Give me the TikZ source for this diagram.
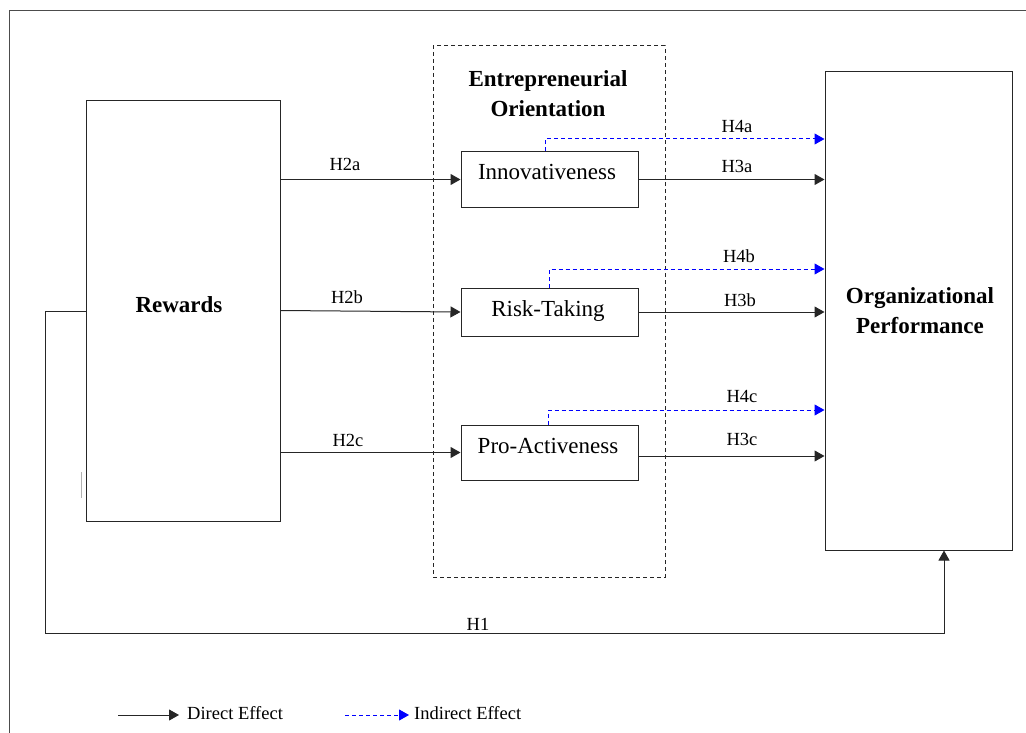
\documentclass[tikz,border=0pt]{standalone}
\usepackage{fontspec}
\setmainfont{Liberation Serif}
\usetikzlibrary{arrows.meta,calc}
\begin{document}
\begin{tikzpicture}[x=1pt,y=-1pt,
  frameline/.style={draw=black!70, line width=1pt},
  box/.style={draw=black!85, line width=1pt, rectangle, inner sep=0pt},
  arr/.style={draw=black!85, line width=1pt, -{Triangle[length=10pt,width=11pt]}},
  ind/.style={draw=blue, line width=1pt, dash pattern=on 4pt off 3pt, -{Triangle[length=10pt,width=11pt]}},
  big/.style={font=\fontsize{23}{29}\selectfont, inner sep=0pt, text height=16pt, text depth=5pt},
  bigb/.style={font=\fontsize{23}{30}\selectfont\bfseries, inner sep=0pt, align=center},
  lab/.style={font=\fontsize{18.5}{22}\selectfont, inner sep=0pt, text height=13pt, text depth=4pt}
]
\useasboundingbox (0,0) rectangle (1026,733);
% frame (top and left)
\draw[frameline] (9,733) -- (9,11) -- (1026,11);
% stray mark
\draw[black!30, line width=0.8pt] (81,472) -- (81,498);

% dashed EO box
\node[draw=black!85, line width=1pt, dash pattern=on 4pt off 3pt, rectangle, inner sep=0pt,
      minimum width=232pt, minimum height=531pt] (eo) at (549,311.5) {};
\node[bigb] (eot) at (548,93.5) {Entrepreneurial\\Orientation};

% main boxes
\node[box, minimum width=194pt, minimum height=420pt] (rew) at (183,311) {};
\node[bigb] (rewt) at (179,305) {Rewards};
\node[box, minimum width=187pt, minimum height=478pt] (org) at (918.5,311) {};
\node[bigb] (orgt) at (920,311) {Organizational\\Performance};

\node[box, minimum width=177pt, minimum height=55pt] (inn) at (549.5,179.5) {};
\node[big] (innt) at (547,174) {Innovativeness};
\node[box, minimum width=177pt, minimum height=48pt] (risk) at (549.5,312) {};
\node[big] (riskt) at (548,311) {Risk-Taking};
\node[box, minimum width=177pt, minimum height=55pt] (pro) at (549.5,452.5) {};
\node[big] (prot) at (548,448) {Pro-Activeness};

% H2 arrows
\draw[arr] (rew.east |- inn.west) -- (inn.west);
\draw[arr] ([yshift=1.5pt]rew.east |- risk.west) -- (risk.west);
\draw[arr] (rew.east |- pro.west) -- (pro.west);
\node[lab] (h2a) at (345,166) {H2a};
\node[lab] (h2b) at (347,299) {H2b};
\node[lab] (h2c) at (348,442) {H2c};

% H3 arrows
\draw[arr] (inn.east) -- (inn.east -| org.west);
\draw[arr] (risk.east) -- (risk.east -| org.west);
\draw[arr] ([yshift=-3.5pt]pro.east) -- ([yshift=-3.5pt]pro.east -| org.west);
\node[lab] (h3a) at (737,168) {H3a};
\node[lab] (h3b) at (740,302) {H3b};
\node[lab] (h3c) at (742,441) {H3c};

% H4 indirect arrows
\draw[ind] ([xshift=-4pt]inn.north) |- ([yshift=172pt]org.west);
\draw[ind] ([xshift=-0.5pt]risk.north) |- ([yshift=42pt]org.west);
\draw[ind] ([xshift=-1.5pt]pro.north) |- ([yshift=-99pt]org.west);
\node[lab] (h4a) at (737,128) {H4a};
\node[lab] (h4b) at (739,258) {H4b};
\node[lab] (h4c) at (742,398) {H4c};

% H1
\draw[arr] (rew.west) -- ++(-40,0) -- ++(0,322) -| ([xshift=25.5pt]org.south);
\node[lab] (h1) at (478,626) {H1};

% legend
\node[lab, anchor=west, inner sep=4pt] (ld) at (183,715) {Direct Effect};
\draw[arr] ([xshift=-65pt]ld.west) -- ([xshift=-4pt]ld.west);
\node[lab, anchor=west, inner sep=4pt] (li) at (410,715) {Indirect Effect};
\draw[ind] ([xshift=-65pt]li.west) -- ([xshift=-1pt]li.west);
\end{tikzpicture}
\end{document}
